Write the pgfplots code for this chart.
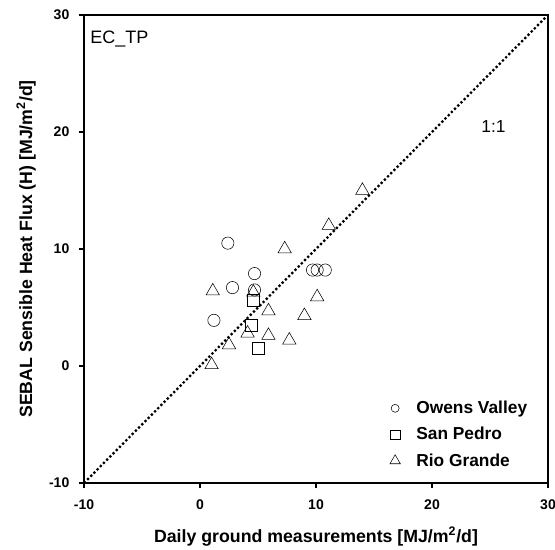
\documentclass[border=0pt]{standalone}
\usepackage{pgfplots}
\pgfplotsset{compat=1.18}
\usepackage{fontspec}
\setmainfont{Liberation Sans}
\begin{document}
\begin{tikzpicture}
\begin{axis}[
  scale only axis,
  width=348pt, height=351pt,
  xmin=-10, xmax=30, ymin=-10, ymax=30,
  xtick={-10,0,10,20,30}, ytick={-10,0,10,20,30},
  tick align=outside, tick pos=left,
  major tick length=4pt,
  axis line style={line width=2pt},
  every tick/.style={black, line width=0.8pt},
  /pgf/number format/assume math mode=true,
  ticklabel style={font=\fontsize{10.5}{12}\selectfont\bfseries},
  xticklabel style={yshift=-5pt},
  yticklabel style={xshift=-3.5pt},
  xlabel={Daily ground measurements [MJ/m\textsuperscript{2}/d]},
  ylabel={SEBAL Sensible Heat Flux (H) [MJ/m\textsuperscript{2}/d]},
  label style={font=\fontsize{13.3}{15}\selectfont\bfseries},
  xlabel style={at={(axis description cs:0.5,-0.128)}, anchor=base},
  ylabel style={at={(axis description cs:-0.112,0.5)}, anchor=base},
  clip=false,
  legend style={draw=none, fill=none, at={(0.97,0.02)}, anchor=south east,
    font=\fontsize{13}{15}\selectfont\bfseries, row sep=4.75pt, column sep=10pt,
    legend cell align=left},
]
\addplot[black, line width=1.7pt, dash pattern={on 1.7pt off 1.7pt}, forget plot] coordinates {(-10,-10) (30,30)};
\addplot[only marks, mark=o, mark size=4.6pt, black, thin,
  legend image post style={mark size=3pt}]
  coordinates {
  (2.4,10.5) (4.7,7.9) (2.8,6.7) (4.7,6.5) (1.2,3.9)
  (9.7,8.2) (10.1,8.2) (10.8,8.2)
};
\addlegendentry{Owens Valley}
\addplot[only marks, mark=square, mark size=4.4pt, black, thin,
  legend image post style={mark size=3.5pt}]
  coordinates {
  (4.6,5.6) (4.4,3.5) (5.0,1.5)
};
\addlegendentry{San Pedro}
\addplot[only marks, mark=triangle, mark size=5.8pt, black, thin,
  legend image post style={mark size=4.5pt}]
  coordinates {
  (14.0,15.0) (11.1,12.0) (7.3,10.0) (1.1,6.4) (4.6,6.3)
  (5.9,4.7) (10.1,5.9) (9.0,4.3) (4.1,2.8) (5.9,2.6)
  (7.7,2.2) (2.5,1.8) (1.0,0.1)
};
\addlegendentry{Rio Grande}
\node[anchor=base west, inner sep=0pt, font=\fontsize{13.5}{15}\selectfont] at (rel axis cs:0.013,0.940) {EC\_TP};
\node[font=\fontsize{13}{15}\selectfont] at (axis cs:25.3,20.5) {1:1};
\end{axis}
\pgfresetboundingbox
\path[use as bounding box] ([xshift=-63pt,yshift=-50.25pt]current axis.south west) rectangle ([xshift=5.25pt,yshift=11.25pt]current axis.north east);
\end{tikzpicture}
\end{document}
